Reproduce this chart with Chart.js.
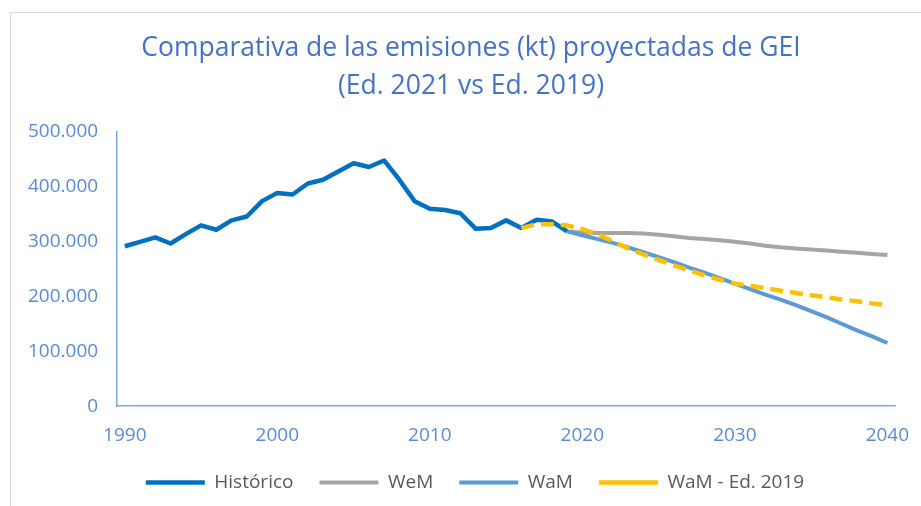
<!DOCTYPE html>
<html>
<head>
<meta charset="utf-8">
<script src="https://cdn.jsdelivr.net/npm/chart.js@4"></script>
<style>
  html, body { margin: 0; padding: 0; background: #fff; }
  #wrap { position: relative; width: 921px; height: 506px; overflow: hidden; }
  #frame { position: absolute; left: 10px; top: 12px; width: 930px; height: 520px; border: 1px solid #d9d9d9; }
  canvas { position: absolute; left: 0; top: 0; }
</style>
</head>
<body>
<div id="wrap">
  <div id="frame"></div>
  <canvas id="chart" width="921" height="506"></canvas>
</div>
<script>
const years = [];
for (let y = 1990; y <= 2040; y++) years.push(y);

// kt CO2-eq
const historicoStart = 1990;
const historico = [291000, 299000, 307000, 296000, 313000, 329000, 321000, 338000, 345000, 373000,
    388000, 385000, 405000, 412000, 427000, 442000, 435000, 447000, 412000, 373000,
    359000, 357000, 351000, 323000, 324000, 338000, 324000, 339000, 336000, 318000];

const wemStart = 2019;
const wem = [318000, 316000, 315000, 315000, 315000, 314000, 312000, 309000, 306000, 304000, 302000,
    299000, 296000, 292000, 289000, 287000, 285000, 283000, 281000, 279000, 277000, 275000];

const wamStart = 2019;
const wam = [318000, 311000, 304000, 297000, 289000, 280000, 271000, 262000, 252000, 243000, 233000,
    223000, 213000, 203000, 194000, 184000, 173000, 162000, 150000, 138000, 127000, 115000];

const wam2019Start = 2016;
const wam2019 = [324000, 331000, 331000, 329000, 322000, 313000, 300000, 287000, 276000, 266000,
    256000, 247000, 238000, 230000, 223000, 219000, 215000, 210000, 206000, 202000,
    198000, 194000, 191000, 187000, 184000];

const yTicks = [0, 100000, 200000, 300000, 400000, 500000];

function pad(start, values) {
    return years.map(y => {
        const i = y - start;
        return i >= 0 && i < values.length ? values[i] : null;
    });
}

function fmt(v) {
    return String(v).replace(/\B(?=(\d{3})+(?!\d))/g, '.');
}

// title and legend are a little right of centre in the original
const recentre = {
    id: 'recentre',
    afterLayout(chart) {
        const move = (box, cx) => {
            const w = box.right - box.left;
            box.left = cx - w / 2;
            box.right = cx + w / 2;
        };
        move(chart.titleBlock, 471);
        move(chart.legend, 475);
    }
};

const ctx = document.getElementById('chart').getContext('2d');
new Chart(ctx, {
    type: 'line',
    data: {
        labels: years,
        datasets: [
            { label: 'Histórico', data: pad(historicoStart, historico), borderColor: '#0070C0', backgroundColor: '#0070C0', borderWidth: 4.5, order: 1 },
            { label: 'WeM', data: pad(wemStart, wem), borderColor: '#A5A5A5', backgroundColor: '#A5A5A5', borderWidth: 4, order: 3 },
            { label: 'WaM', data: pad(wamStart, wam), borderColor: '#5B9BD5', backgroundColor: '#5B9BD5', borderWidth: 4, order: 2 },
            { label: 'WaM - Ed. 2019', data: pad(wam2019Start, wam2019), borderColor: '#FFC000', backgroundColor: '#FFC000', borderWidth: 4.5, borderDash: [13, 7], order: 0 }
        ]
    },
    plugins: [recentre],
    options: {
        responsive: false,
        animation: false,
        layout: { padding: { top: 14, left: 9, right: 26, bottom: 4 } },
        elements: {
            point: { radius: 0 },
            line: { tension: 0, borderJoinStyle: 'round' }
        },
        plugins: {
            title: {
                display: true,
                text: ['Comparativa de las emisiones (kt) proyectadas de GEI', '(Ed. 2021 vs Ed. 2019)'],
                color: '#4472C4',
                font: { family: 'Open Sans', size: 26.5, weight: 'normal', lineHeight: 1.44 },
                padding: { top: 15, bottom: 26 }
            },
            legend: {
                position: 'bottom',
                labels: {
                    usePointStyle: true,
                    pointStyle: 'line',
                    pointStyleWidth: 59,
                    color: '#595959',
                    font: { family: 'Open Sans', size: 19 },
                    padding: 26,
                    sort: (a, b) => a.datasetIndex - b.datasetIndex
                }
            },
            tooltip: { enabled: false }
        },
        scales: {
            x: {
                offset: true,
                afterFit: axis => { axis.height -= 18; axis.paddingRight = 0; },
                grid: { display: false, drawTicks: false },
                border: { display: true, color: '#7EA6E0', width: 1.5 },
                ticks: {
                    autoSkip: false,
                    maxRotation: 0,
                    minRotation: 0,
                    padding: 18,
                    color: '#5B8AD3',
                    font: { family: 'Open Sans', size: 19 },
                    callback: function (value, index) {
                        const y = years[index];
                        return y % 10 === 0 ? String(y) : '';
                    }
                }
            },
            y: {
                min: 0,
                max: 500000,
                afterBuildTicks: axis => { axis.ticks = yTicks.map(v => ({ value: v })); },
                grid: { display: false, drawTicks: false },
                border: { display: true, color: '#7EA6E0', width: 1.5 },
                ticks: {
                    padding: 19,
                    color: '#5B8AD3',
                    font: { family: 'Open Sans', size: 19 },
                    callback: v => fmt(v)
                }
            }
        }
    }
});
</script>
</body>
</html>
